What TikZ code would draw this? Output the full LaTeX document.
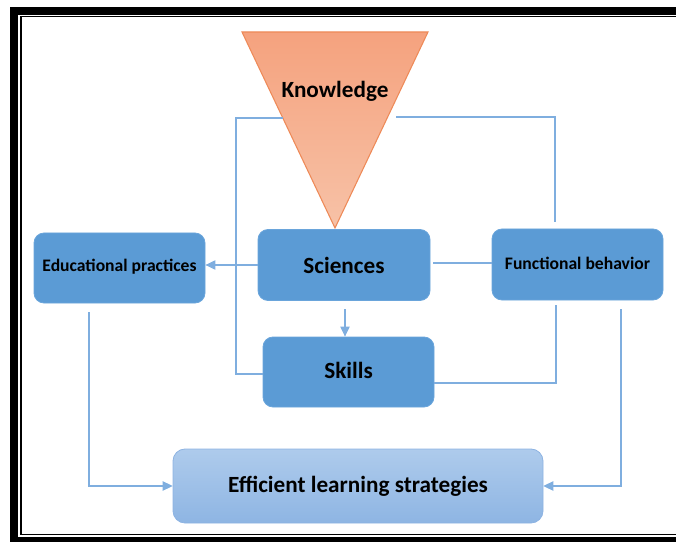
\documentclass[tikz,border=0pt]{standalone}
\usepackage{fontspec}
\setmainfont{Carlito}
\usetikzlibrary{arrows.meta}
\definecolor{boxblue}{HTML}{5B9BD5}
\definecolor{boxedge}{HTML}{6AA5DB}
\definecolor{linkblue}{HTML}{7FAEDF}
\definecolor{efftop}{HTML}{AECBEC}
\definecolor{effbot}{HTML}{8EB5E3}
\definecolor{effedge}{HTML}{8DB3E2}
\definecolor{tritop}{HTML}{F5A27E}
\definecolor{tribot}{HTML}{F7C2A7}
\definecolor{triedge}{HTML}{EE8A58}
\begin{document}
\begin{tikzpicture}[x=0.75pt,y=-0.75pt,
  box/.style={fill=boxblue, draw=boxedge, line width=0.6pt, rounded corners=7.5pt,
    text=black, inner sep=0pt, font=\bfseries\fontsize{17.4}{20}\selectfont},
  smallbox/.style={box, font=\bfseries\fontsize{13.2}{15}\selectfont},
  link/.style={draw=linkblue, line width=0.8pt},
  tip/.style={-{Triangle[length=7.5pt,width=7pt]}}]
\clip (0,0) rectangle (676,542);
% frame
\draw[line width=6pt] (14,11) rectangle (720,541);
\draw[line width=1.3pt] (21,16.5) rectangle (720,534.5);
% triangle
\coordinate (tA) at (242,32);
\coordinate (tB) at (428,32);
\coordinate (tC) at (335,228);
\shade[top color=tritop, bottom color=tribot, draw=triedge, line width=0.8pt] (tA) -- (tB) -- (tC) -- cycle;
\node[font=\bfseries\fontsize{17.4}{20}\selectfont] (know) at (335,91.5) {Knowledge};
% boxes
\node[smallbox, minimum width={171*0.75pt}, minimum height={70*0.75pt}] (edu) at (119.5,268) {\raisebox{4pt}{Educational practices}};
\node[box, minimum width={172*0.75pt}, minimum height={71*0.75pt}] (sci) at (344,265) {Sciences};
\node[box, minimum width={171*0.75pt}, minimum height={70*0.75pt}] (skl) at (348.5,372) {\raisebox{2pt}{Skills}};
\node[smallbox, minimum width={171*0.75pt}, minimum height={71*0.75pt}] (fun) at (577.5,264.5) {\raisebox{2.5pt}{Functional behavior}};
\shade[top color=efftop, bottom color=effbot, draw=effedge, line width=0.6pt, rounded corners=9pt] (173,449) rectangle (543,523);
\node[font=\bfseries\fontsize{17.4}{20}\selectfont, minimum width={370*0.75pt}, minimum height={74*0.75pt}] (eff) at (358,486) {\raisebox{-1.5pt}{Efficient learning strategies}};
% connectors
\draw[link,tip] (sci.west) -- (sci.west -| edu.east);
\coordinate (s1) at (345,309);
\draw[link,tip] (s1) -- (s1 |- skl.north);
\coordinate (kl) at (283,118);
\coordinate (kl2) at (236,118);
\coordinate (kl3) at (236,374);
\draw[link] (kl) -- (kl2) -- (kl3) -- (kl3 -| skl.west);
\coordinate (kr) at (396,117);
\coordinate (kr2) at (555,222);
\draw[link] (kr) -| (kr2);
\coordinate (sr) at (433,263);
\draw[link] (sr) -- (sr -| fun.west);
\coordinate (f1) at (556,305);
\coordinate (f1b) at (556,383);
\draw[link] (f1) -- (f1b) -- (f1b -| skl.east);
\coordinate (f2) at (621,309);
\draw[link,tip] (f2) |- (eff.east);
\coordinate (e1) at (89,312);
\draw[link,tip] (e1) |- (eff.west);
\end{tikzpicture}
\end{document}
